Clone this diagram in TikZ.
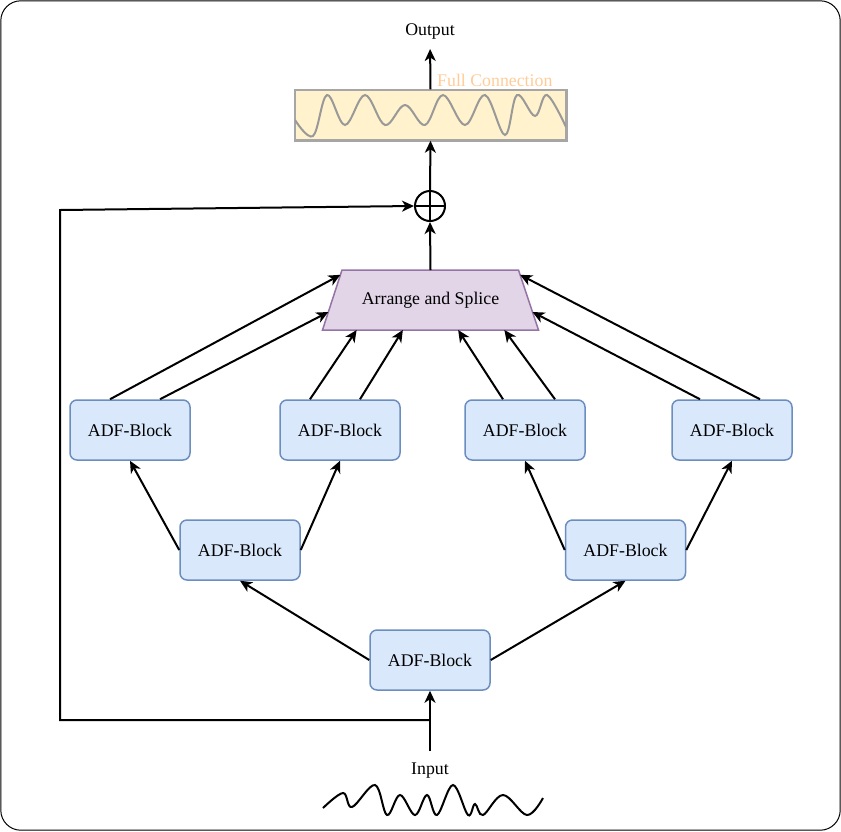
\documentclass[tikz,border=0pt]{standalone}
\usepackage{fontspec}
\setmainfont{Liberation Serif}
\usetikzlibrary{shapes.geometric,arrows.meta,calc}
\definecolor{blkfill}{HTML}{DAE8FC}
\definecolor{blkdraw}{HTML}{6C8EBF}
\definecolor{trfill}{HTML}{E1D5E7}
\definecolor{trdraw}{HTML}{9673A6}
\definecolor{fcfill}{HTML}{FFF2CC}
\definecolor{fcdraw}{HTML}{A6A6A6}
\definecolor{fctext}{HTML}{FFCC99}
\definecolor{wavegray}{HTML}{999999}
\begin{document}
\begin{tikzpicture}[x=1pt,y=-1pt, font=\fontsize{17.8}{21}\selectfont,
  adf/.style={draw=blkdraw, fill=blkfill, line width=1.5pt, rounded corners=7pt,
    minimum width=120pt, minimum height=60pt, inner sep=0pt},
  arr/.style={line width=2pt, -{Stealth[length=12pt,width=11pt,inset=3.5pt]}},
  ln/.style={line width=2pt}]
\useasboundingbox (0,0) rectangle (841,831);
\draw[line width=1pt, rounded corners=20pt] (0.8,0.8) rectangle (840.2,830.2);

% blocks
\node[adf] (l1) at (430,660) {ADF-Block};
\node[adf] (l2a) at (240,550) {ADF-Block};
\node[adf] (l2b) at (625.5,550) {ADF-Block};
\node[adf] (t1) at (130,430) {ADF-Block};
\node[adf] (t2) at (340,430) {ADF-Block};
\node[adf] (t3) at (525,430) {ADF-Block};
\node[adf] (t4) at (732,430) {ADF-Block};

% arrange and splice
\coordinate (asTL) at (342,270);
\coordinate (asTR) at (518.5,270);
\coordinate (asBR) at (538.5,330);
\coordinate (asBL) at (322.5,330);
\draw[draw=trdraw, fill=trfill, line width=1.5pt] (asBL) -- (asTL) -- (asTR) -- (asBR) -- cycle;
\node[inner sep=0pt] (as) at (430.5,300) {Arrange and Splice};
\coordinate (asN) at (430.5,270);

% sum
\node[circle, draw, line width=2pt, minimum size=30pt, inner sep=0pt] (sum) at (430,206) {};
\draw[ln] (sum.north) -- (sum.south) (sum.west) -- (sum.east);

% full connection
\node[draw=fcdraw, fill=fcfill, line width=1.5pt, minimum width=271pt,
  minimum height=50pt, inner sep=0pt] (fc) at (430.5,115) {};
\begin{scope}
\clip (fc.south west) rectangle (fc.north east);
\draw[wavegray, line width=2pt] plot[smooth, tension=0.6] coordinates {
 (295,120) (313,136) (327,95) (345,125) (365,95) (385,125) (405,105) (425,125)
 (443,95) (465,125) (485,95) (505,135) (517,95) (535,116) (547,95) (566,127)};
\end{scope}
\draw[fcdraw, line width=1.5pt] (fc.south west) rectangle (fc.north east);
\node[text=fctext, anchor=west, inner sep=0pt] (fcl) at (437,80) {Full Connection};

% output / input
\node[inner sep=0pt] (out) at (430,31) {Output};
\node[inner sep=0pt] (in) at (430,771) {Input};
\draw[line width=2pt] plot[smooth, tension=0.6] coordinates {
 (323,808) (343,793) (352,807) (375,785) (387,815) (400,795) (415,815) (427,795)
 (437,815) (453,785) (468,815) (475,804) (483,815) (503,795) (527,815) (543,798)};

% connectors
\draw[arr, shorten <=12pt] (in.north) -- (l1.south);
\coordinate (br) at (430,720);
\coordinate (fbtop) at (60,210);
\draw[arr] (br) -| (fbtop) -- (sum.west);

\draw[arr] (l1.west) -- (l2a.south);
\draw[arr] (l1.east) -- (l2b.south);
\draw[arr] (l2a.west) -- (t1.south);
\draw[arr] (l2a.east) -- (t2.south);
\draw[arr] (l2b.west) -- (t3.south);
\draw[arr] (l2b.east) -- (t4.south);

\draw[arr] ($(t1.north)+(-20,0)$) -- ($(asBL)!0.92!(asTL)$);
\draw[arr] ($(t1.north)+(30,0)$) -- ($(asBL)!0.3!(asTL)$);
\draw[arr] ($(t2.north)+(-30,0)$) -- ($(asBL)!0.158!(asBR)$);
\draw[arr] ($(t2.north)+(20,0)$) -- ($(asBL)!0.372!(asBR)$);
\draw[arr] ($(t3.north)+(-22,0)$) -- ($(asBL)!0.628!(asBR)$);
\draw[arr] ($(t3.north)+(30,0)$) -- ($(asBL)!0.842!(asBR)$);
\draw[arr] ($(t4.north)+(-32,0)$) -- ($(asBR)!0.3!(asTR)$);
\draw[arr] ($(t4.north)+(28,0)$) -- ($(asBR)!0.92!(asTR)$);

\draw[arr] (asN) -- (sum.south);
\draw[arr] (sum.north) -- (fc.south);
\draw[arr, shorten >=10pt] (fc.north) -- (out.south);
\end{tikzpicture}
\end{document}
